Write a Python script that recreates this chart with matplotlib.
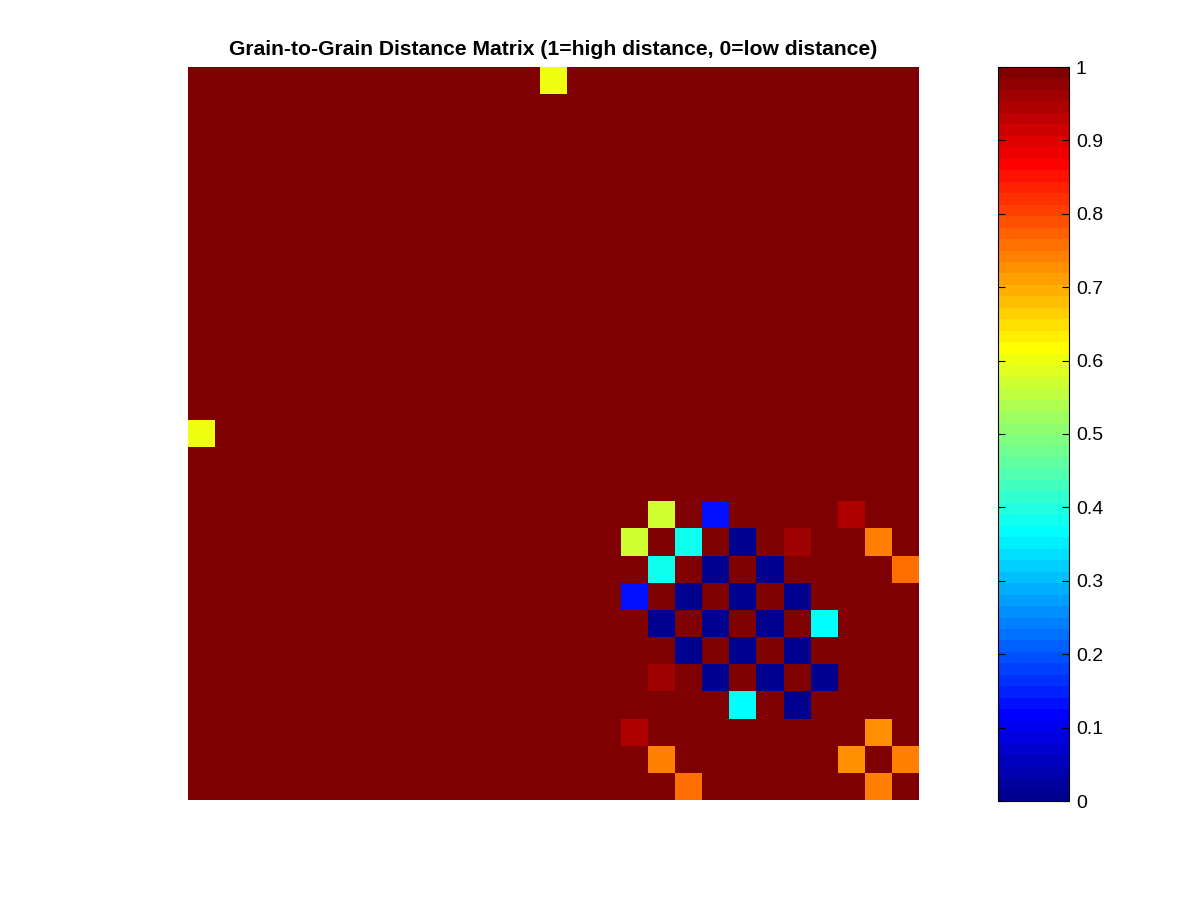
import numpy as np
import matplotlib
matplotlib.use("Agg")
import matplotlib.pyplot as plt
from matplotlib.colors import ListedColormap

plt.rcParams['font.family'] = ['Liberation Sans', 'DejaVu Sans']

# Matrix size and off-diagonal entries (row, col, value); matrix is symmetric, rest = 1
n_grains = 27
pair_rows = [0, 16, 16, 16, 17, 17, 17, 17, 18, 18, 18, 19, 19, 19, 20, 20, 21, 22, 24, 25, 25, 26]
pair_cols = [13, 17, 19, 24, 18, 20, 22, 25, 19, 21, 26, 20, 22, 16, 21, 23, 22, 23, 25, 26, 17, 18]
pair_vals = [0.60, 0.57, 0.13, 0.945, 0.38, 0.0, 0.96, 0.74, 0.0, 0.0, 0.765, 0.0, 0.0, 0.13,
             0.0, 0.37, 0.0, 0.0, 0.725, 0.74, 0.74, 0.765]

dist = np.ones((n_grains, n_grains))
for r, c, v in zip(pair_rows, pair_cols, pair_vals):
    dist[r, c] = v
    dist[c, r] = v

# MATLAB-style jet(64)
x = np.arange(1, 65) / 64.0
red = np.clip(np.minimum(4 * x - 1.5, -4 * x + 4.5), 0, 1)
green = np.clip(np.minimum(4 * x - 0.5, -4 * x + 3.5), 0, 1)
blue = np.clip(np.minimum(4 * x + 0.5, -4 * x + 2.5), 0, 1)
jet64 = ListedColormap(np.column_stack([red, green, blue]))

fig = plt.figure(figsize=(12.01, 9), dpi=100)
ax = fig.add_axes([188 / 1201, 100 / 900, 731 / 1201, 733 / 900])
im = ax.imshow(dist, cmap=jet64, vmin=0, vmax=1, aspect='auto', interpolation='nearest')
ax.axis('off')
ax.set_title("Grain-to-Grain Distance Matrix (1=high distance, 0=low distance)",
             fontsize=15.2, fontweight='bold', pad=9)

cax = fig.add_axes([998 / 1201, 99 / 900, 71 / 1201, 734 / 900])
cb = fig.colorbar(im, cax=cax)
ticks = [0, 0.1, 0.2, 0.3, 0.4, 0.5, 0.6, 0.7, 0.8, 0.9, 1]
cb.set_ticks(ticks)
cb.set_ticklabels(["0", "0.1", "0.2", "0.3", "0.4", "0.5", "0.6", "0.7", "0.8", "0.9", "1"])
cax.tick_params(direction='in', left=True, right=True, labelleft=False, labelright=True,
                length=5, width=0.8, labelsize=14, pad=5)
cb.outline.set_linewidth(0.8)

plt.savefig("out.png", dpi=100)
